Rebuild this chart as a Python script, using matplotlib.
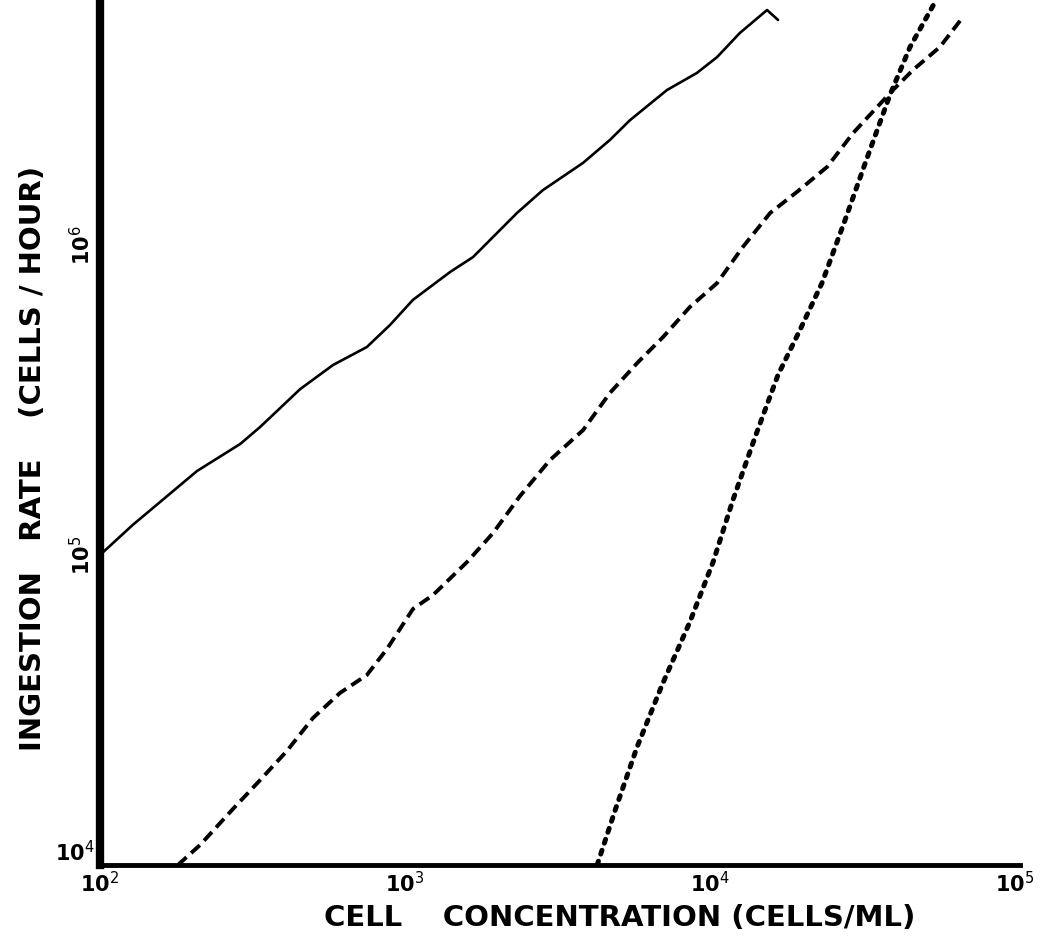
import matplotlib.pyplot as plt

# values (log-log axes)
solid_x = [100, 128, 166, 208, 288, 335, 453, 581, 750, 893, 1062, 1406, 1671, 2328,
           2831, 3837, 4699, 5470, 7228, 9057, 10544, 12531, 15382, 16711]
solid_y = [1.0e5, 1.25e5, 1.549e5, 1.866e5, 2.28e5, 2.588e5, 3.428e5, 4.102e5, 4.688e5,
           5.521e5, 6.653e5, 8.185e5, 9.141e5, 1.268e6, 1.503e6, 1.841e6, 2.183e6, 2.529e6,
           3.162e6, 3.589e6, 4.036e6, 4.831e6, 5.728e6, 5.321e6]

dashed_x = [180, 213, 273, 335, 410, 499, 612, 750, 873, 1062, 1236, 1596, 1945, 2382,
            2985, 3837, 4699, 5768, 7015, 8590, 10544, 12823, 15740, 19275, 24210, 29444,
            35318, 39811, 46345, 56754, 67453]
dashed_y = [1.0e4, 1.161e4, 1.517e4, 1.879e4, 2.333e4, 2.979e4, 3.589e4, 4.102e4, 4.977e4,
            6.699e4, 7.43e4, 9.484e4, 1.178e5, 1.549e5, 2.023e5, 2.529e5, 3.334e5, 4.159e5,
            5.047e5, 6.31e5, 7.534e5, 9.863e5, 1.268e6, 1.483e6, 1.786e6, 2.296e6, 2.786e6,
            3.162e6, 3.673e6, 4.355e6, 5.433e6]

dotted_x = [4266, 4887, 5768, 6966, 8590, 10233, 11885, 14060, 16711, 19724, 23281,
            27733, 32734, 38905, 45290, 54702]
dotted_y = [1.0e4, 1.503e4, 2.404e4, 3.811e4, 6.081e4, 9.484e4, 1.503e5, 2.404e5, 3.811e5,
            5.321e5, 7.534e5, 1.205e6, 1.91e6, 3.048e6, 4.355e6, 6.081e6]

xticks = [1e2, 1e3, 1e4, 1e5]
xtick_labels = ["10$^2$", "10$^3$", "10$^4$", "10$^5$"]
yticks = [1e4, 1e5, 1e6]
ytick_labels = ["10$^4$", "10$^5$", "10$^6$"]

plt.rcParams["font.family"] = ["DejaVu Sans"]

fig = plt.figure(figsize=(10.61, 9.51), dpi=100)
ax = fig.add_axes([100 / 1061, 86 / 951, 920 / 1061, 865 / 951])

ax.plot(solid_x, solid_y, color="black", lw=1.9, solid_capstyle="round")
ax.plot(dashed_x, dashed_y, color="black", lw=2.8, linestyle=(0, (3.0, 1.6)))
ax.plot(dotted_x, dotted_y, color="black", lw=3.6, linestyle=(0, (0.8, 1.5)),
        dash_capstyle="round")

ax.set_xscale("log")
ax.set_yscale("log")
ax.set_xlim(1e2, 10 ** (2 + 920 / 305))
ax.set_ylim(1e4, 10 ** (4 + 865 / 310))

ax.set_xticks(xticks)
ax.set_xticklabels(xtick_labels, fontsize=15, fontweight="bold")
ax.set_yticks(yticks)
ax.set_yticklabels(ytick_labels, fontsize=15, fontweight="bold", rotation=90, va="center")
ax.minorticks_off()
ax.tick_params(length=0, pad=4)

# the 10^4 label sits level with the axis, just above the 10^2 label
lab4 = ax.get_yticklabels()[0]
lab4.set_rotation(0)
lab4.set_va("bottom")

for side in ["top", "right"]:
    ax.spines[side].set_visible(False)
ax.spines["left"].set_linewidth(6)
ax.spines["bottom"].set_linewidth(3.5)

ax.set_xlabel("CELL    CONCENTRATION (CELLS/ML)", fontsize=21, fontweight="bold")
ax.xaxis.set_label_coords(0.565, -0.045)
ax.set_ylabel("INGESTION   RATE    (CELLS / HOUR)", fontsize=21, fontweight="bold")
ax.yaxis.set_label_coords(-0.058, 0.47)

fig.savefig("out.png", dpi=100)
